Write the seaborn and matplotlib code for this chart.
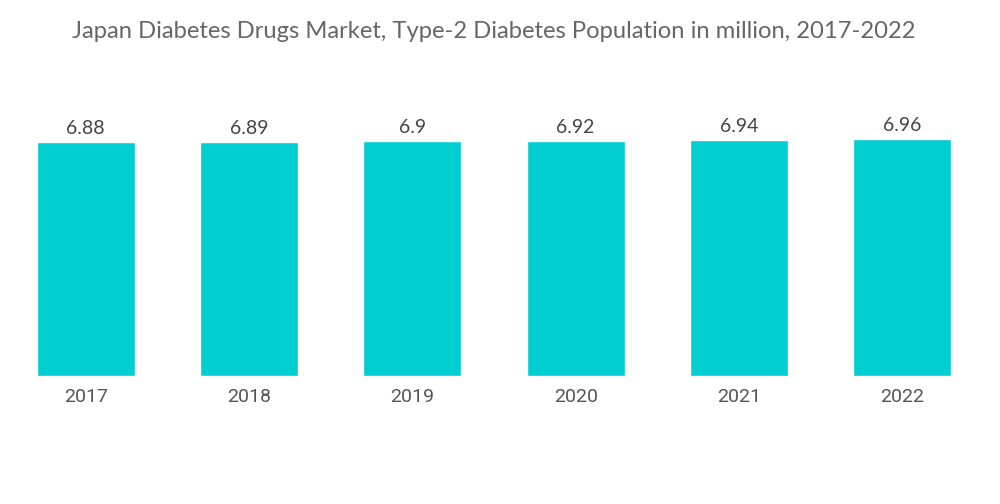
import matplotlib
matplotlib.use("Agg")
import matplotlib.pyplot as plt
import seaborn as sns
import pandas as pd

years = ["2017", "2018", "2019", "2020", "2021", "2022"]
population = [6.88, 6.89, 6.9, 6.92, 6.94, 6.96]
labels = ["6.88", "6.89", "6.9", "6.92", "6.94", "6.96"]

df = pd.DataFrame({"year": years, "population": population})

sns.set_style("white")
plt.rcParams["font.family"] = ["Lato", "DejaVu Sans"]

fig = plt.figure(figsize=(10, 5.04), dpi=100)
ax = fig.add_axes([0.004, 0.254, 0.98, 0.54])
sns.barplot(data=df, x="year", y="population", color="#00CED1",
            saturation=1, width=0.6, ax=ax)
ax.set_ylim(0, 8.0)
ax.set_xlim(-0.5, 5.5)
for i, v in enumerate(population):
    ax.text(i, v + 0.14, labels[i], ha="center", va="bottom",
            fontsize=14, color="#444444")
ax.set_xlabel("")
ax.set_ylabel("")
ax.set_yticks([])
ax.tick_params(axis="x", length=0, pad=9)
for t in ax.get_xticklabels():
    t.set_fontfamily(["Roboto", "DejaVu Sans"])
    t.set_fontsize(14)
    t.set_color("#555555")
sns.despine(ax=ax, left=True, bottom=True)
fig.text(0.494, 0.938, "Japan Diabetes Drugs Market, Type-2 Diabetes Population in million, 2017-2022",
         ha="center", va="center", fontsize=17.1, color="#666666")
fig.savefig("out.png", dpi=100, facecolor="white")
